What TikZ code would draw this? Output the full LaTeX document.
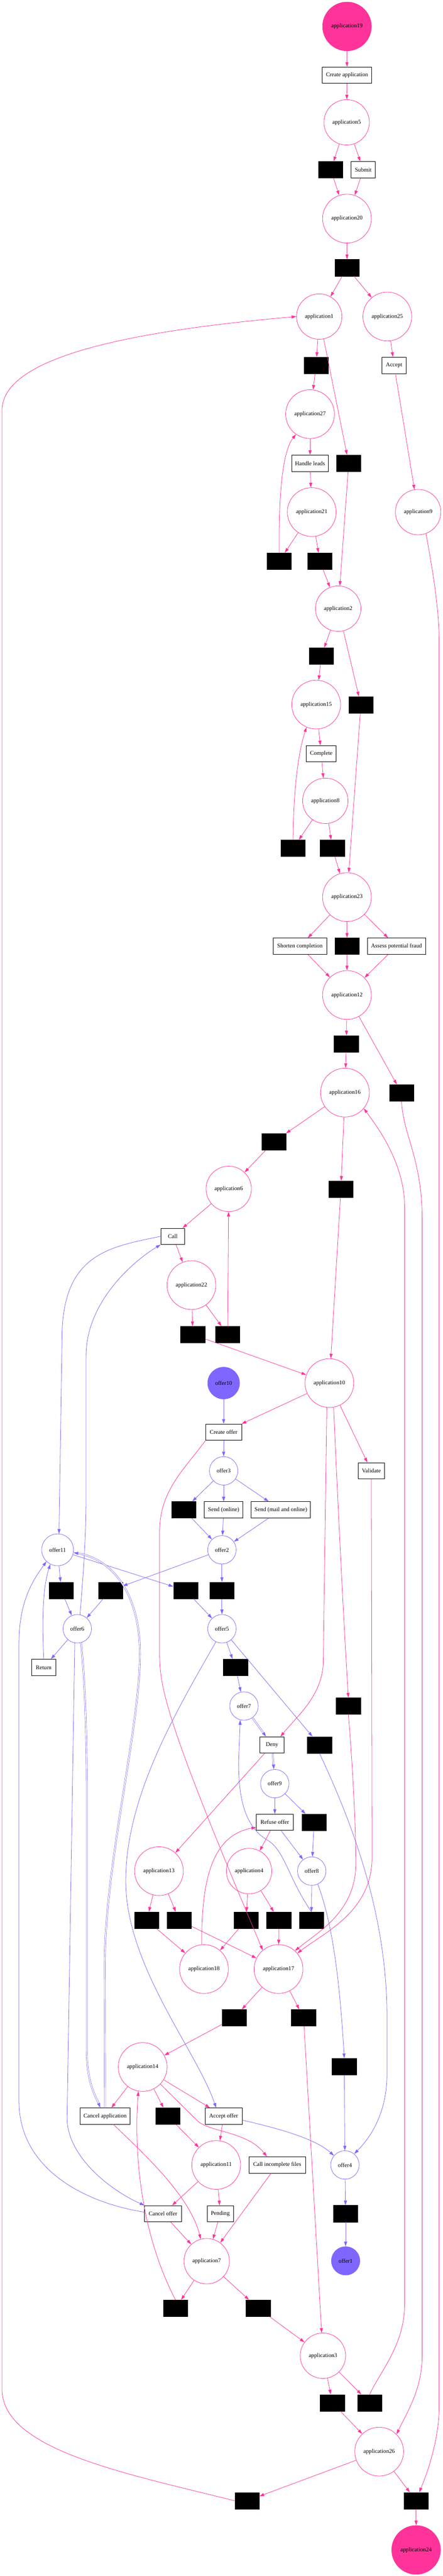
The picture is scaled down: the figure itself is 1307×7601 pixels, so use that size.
\documentclass[tikz,border=0pt]{standalone}
\usepackage{fontspec}
\setmainfont{Liberation Serif}
\usetikzlibrary{arrows.meta}
\definecolor{apink}{HTML}{FF3399}
\definecolor{oblue}{HTML}{7F66FF}
\begin{document}
\begin{tikzpicture}[x=0.5pt,y=-0.5pt,
  font=\fontsize{8.5}{10}\selectfont,
  appl/.style={circle,draw=apink,line width=0.6pt,inner sep=0pt,minimum size=#1},
  offr/.style={circle,draw=oblue,line width=0.6pt,inner sep=0pt,minimum size=#1},
  act/.style={draw,fill=white,line width=0.6pt,inner sep=0pt,minimum height=24pt,minimum width=#1},
  silent/.style={draw,fill=black,inner sep=0pt,minimum width=36pt,minimum height=24.5pt},
  aarc/.style={draw=apink,line width=0.6pt,-{Triangle[length=7pt,width=4.5pt]}},
  oarc/.style={draw=oblue,line width=0.6pt,-{Triangle[length=7pt,width=4.5pt]}},
  ovar/.style={oarc,double=white,double distance=1.4pt,line width=0.5pt}]
\useasboundingbox (0,0) rectangle (1307,7601);
\node[appl=72pt,fill=apink] (a19) at (1024,78) {application19};
\node[act=73pt] (tCA) at (1024,222) {Create application};
\node[appl=67pt] (a5) at (1023,361) {application5};
\node[silent] (s1) at (976,501) {};
\node[act=36pt] (tSub) at (1072,501) {Submit};
\node[appl=72pt] (a20) at (1024,645) {application20};
\node[silent] (s2) at (1024,790) {};
\node[appl=67pt] (a1) at (942,934) {application1};
\node[appl=72pt] (a25) at (1143,934) {application25};
\node[silent] (s3) at (933,1078) {};
\node[act=36pt] (tAcc) at (1163,1078) {Accept};
\node[appl=72pt] (a27) at (915,1222) {application27};
\node[act=54.5pt] (tHL) at (915,1367) {Handle leads};
\node[silent] (s4) at (1029,1367) {};
\node[appl=72pt] (a21) at (920,1511) {application21};
\node[appl=67pt] (a9) at (1234,1511) {application9};
\node[silent] (s5) at (824,1656) {};
\node[silent] (s6) at (944,1656) {};
\node[appl=67pt] (a2) at (998,1796) {application2};
\node[silent] (s7) at (948,1936) {};
\node[silent] (s8) at (1065,2080) {};
\node[appl=72pt] (a15) at (933,2079) {application15};
\node[act=44.5pt] (tCmp) at (948,2224) {Complete};
\node[appl=67pt] (a8) at (960,2363) {application8};
\node[silent] (s9) at (865,2503) {};
\node[silent] (s10) at (981,2503) {};
\node[appl=72pt] (a23) at (1024,2647) {application23};
\node[act=79pt] (tSC) at (885,2792) {Shorten completion};
\node[silent] (s11) at (1024,2792) {};
\node[act=86pt] (tAPF) at (1170,2792) {Assess potential fraud};
\node[appl=72pt] (a12) at (1024,2936) {application12};
\node[silent] (s12) at (1022,3080) {};
\node[silent] (s13) at (1185,3225) {};
\node[appl=72pt] (a16) at (1018,3224) {application16};
\node[silent] (s14) at (808,3369) {};
\node[appl=67pt] (a6) at (675,3508) {application6};
\node[silent] (s15) at (1006,3509) {};
\node[act=35.5pt] (tCall) at (510,3648) {Call};
\node[appl=72pt] (a22) at (565,3792) {application22};
\node[silent] (s16) at (569,3938) {};
\node[silent] (s17) at (672,3938) {};
\node[offr=47pt,fill=oblue] (o10) at (660,4081) {offer10};
\node[appl=72pt] (a10) at (972,4081) {application10};
\node[act=53pt] (tCO) at (660,4226) {Create offer};
\node[offr=42pt] (o3) at (660,4340) {offer3};
\node[act=39pt] (tVal) at (1096,4340) {Validate};
\node[silent] (s18) at (542,4455) {};
\node[act=57pt] (tSOn) at (660,4455) {Send (online)};
\node[act=87.5pt] (tSMO) at (829,4455) {Send (mail and online)};
\node[offr=47pt] (o11) at (170,4573) {offer11};
\node[offr=42pt] (o2) at (655,4573) {offer2};
\node[silent] (s19) at (181,4693) {};
\node[silent] (s20) at (326,4693) {};
\node[silent] (s21) at (548,4693) {};
\node[silent] (s22) at (655,4693) {};
\node[offr=42pt] (o6) at (228,4806) {offer6};
\node[offr=42pt] (o5) at (655,4806) {offer5};
\node[act=36pt] (tRet) at (129,4920) {Return};
\node[silent] (s23) at (695,4920) {};
\node[offr=42pt] (o7) at (720,5034) {offer7};
\node[silent] (s24) at (1028,5034) {};
\node[act=35.5pt] (tDeny) at (803,5149) {Deny};
\node[silent] (s25) at (943,5149) {};
\node[offr=42pt] (o9) at (811,5263) {offer9};
\node[act=54.5pt] (tRO) at (811,5377) {Refuse offer};
\node[silent] (s26) at (927,5377) {};
\node[appl=72pt] (a13) at (469,5521) {application13};
\node[appl=67pt] (a4) at (735,5521) {application4};
\node[offr=42pt] (o8) at (920,5521) {offer8};
\node[silent] (s27) at (433,5666) {};
\node[silent] (s28) at (529,5666) {};
\node[silent] (s29) at (726,5666) {};
\node[silent] (s30) at (823,5666) {};
\node[silent] (s31) at (919,5666) {};
\node[appl=72pt] (a18) at (602,5810) {application18};
\node[appl=72pt] (a17) at (822,5810) {application17};
\node[silent] (s32) at (691,5954) {};
\node[silent] (s33) at (896,5954) {};
\node[appl=72pt] (a14) at (421,6099) {application14};
\node[silent] (s34) at (1016,6098) {};
\node[act=73.5pt] (tCApp) at (310,6244) {Cancel application};
\node[silent] (s35) at (495,6244) {};
\node[act=54.5pt] (tAO) at (660,6244) {Accept offer};
\node[appl=72pt] (a11) at (638,6388) {application11};
\node[act=83.5pt] (tCIF) at (818,6388) {Call incomplete files};
\node[offr=42pt] (o4) at (1018,6388) {offer4};
\node[act=54pt] (tCOf) at (481,6532) {Cancel offer};
\node[act=38.5pt] (tPen) at (650,6532) {Pending};
\node[silent] (s36) at (1020,6532) {};
\node[appl=67pt] (a7) at (610,6672) {application7};
\node[offr=42pt,fill=oblue] (o1) at (1020,6671) {offer1};
\node[silent] (s37) at (518,6811) {};
\node[silent] (s38) at (762,6811) {};
\node[appl=67pt] (a3) at (953,6951) {application3};
\node[silent] (s39) at (981,7090) {};
\node[silent] (s40) at (1091,7090) {};
\node[appl=72pt] (a26) at (1119,7234) {application26};
\node[silent] (s41) at (729,7379) {};
\node[silent] (s42) at (1228,7379) {};
\node[appl=72pt,fill=apink] (a24) at (1228,7524) {application24};
\draw[aarc] (a19) -- (tCA);
\draw[aarc] (tCA) -- (a5);
\draw[aarc] (a5) -- (s1);
\draw[aarc] (a5) -- (tSub);
\draw[aarc] (s1) -- (a20);
\draw[aarc] (tSub) -- (a20);
\draw[aarc] (a20) -- (s2);
\draw[aarc] (s2) -- (a1);
\draw[aarc] (s2) -- (a25);
\draw[aarc] (a1) -- (s3);
\draw[aarc] (a1) -- (s4);
\draw[aarc] (a25) -- (tAcc);
\draw[aarc] (tAcc) -- (a9);
\draw[aarc] (s3) -- (a27);
\draw[aarc] (a27) -- (tHL);
\draw[aarc] (tHL) -- (a21);
\draw[aarc] (a21) -- (s5);
\draw[aarc] (a21) -- (s6);
\draw[aarc] (s5.north) .. controls (822,1450) and (835,1330) .. (a27.-125);
\draw[aarc] (s6) -- (a2);
\draw[aarc] (s4) -- (a2);
\draw[aarc] (a2) -- (s7);
\draw[aarc] (a2) -- (s8);
\draw[aarc] (s7) -- (a15);
\draw[aarc] (s8) -- (a23);
\draw[aarc] (a15) -- (tCmp);
\draw[aarc] (tCmp) -- (a8);
\draw[aarc] (a8) -- (s9);
\draw[aarc] (a8) -- (s10);
\draw[aarc] (s9.north) .. controls (866,2330) and (880,2220) .. (a15.-113);
\draw[aarc] (s10) -- (a23);
\draw[aarc] (a23) -- (tSC);
\draw[aarc] (a23) -- (s11);
\draw[aarc] (a23) -- (tAPF);
\draw[aarc] (tSC) -- (a12);
\draw[aarc] (s11) -- (a12);
\draw[aarc] (tAPF) -- (a12);
\draw[aarc] (a12) -- (s12);
\draw[aarc] (a12) -- (s13);
\draw[aarc] (s12) -- (a16);
\draw[aarc] (s13.south) .. controls (1190,3350) and (1246,3420) .. (1246,3600) -- (1246,6950) .. controls (1246,7050) and (1200,7120) .. (a26.45);
\draw[aarc] (a16) -- (s14);
\draw[aarc] (a16) -- (s15);
\draw[aarc] (s14) -- (a6);
\draw[aarc] (s15) -- (a10);
\draw[aarc] (s40.north) .. controls (1120,7000) and (1194,6920) .. (1194,6800) -- (1194,3560) .. controls (1194,3430) and (1110,3320) .. (a16.-40);
\draw[aarc] (a6) -- (tCall);
\draw[aarc] (tCall) -- (a22);
\draw[aarc] (a22) -- (s16);
\draw[aarc] (a22) -- (s17);
\draw[aarc] (s17) -- (a6);
\draw[aarc] (s16) -- (a10);
\draw[aarc] (a10) -- (tCO);
\draw[aarc] (a10) -- (tVal);
\draw[aarc] (a10.-96) -- (954,4900) .. controls (954,5000) and (880,5060) .. (tDeny.45);
\draw[aarc] (a10.-80) .. controls (995,4400) and (1015,4800) .. (s24.north);
\draw[aarc] (tVal.south) -- (1098,5480) .. controls (1098,5640) and (960,5700) .. (a17.40);
\draw[aarc] (s24.south) .. controls (1040,5200) and (1050,5380) .. (1050,5500) .. controls (1050,5640) and (940,5700) .. (a17.48);
\draw[aarc] (tCO.south west) .. controls (540,4340) and (471,4400) .. (471,4520) -- (471,4880) .. controls (471,4980) and (490,5080) .. (a17.130);
\draw[aarc] (tDeny) -- (a13);
\draw[aarc] (tRO) -- (a4);
\draw[aarc] (a18.95) .. controls (592,5480) and (660,5410) .. (tRO.195);
\draw[aarc] (a13) -- (s27);
\draw[aarc] (a13) -- (s28);
\draw[aarc] (a4) -- (s29);
\draw[aarc] (a4) -- (s30);
\draw[aarc] (s27) -- (a18);
\draw[aarc] (s29) -- (a18);
\draw[aarc] (s28) -- (a17);
\draw[aarc] (s30) -- (a17);
\draw[aarc] (a17) -- (s32);
\draw[aarc] (a17) -- (s33);
\draw[aarc] (s32) -- (a14);
\draw[aarc] (s33) -- (a3);
\draw[aarc] (a14) -- (tCApp);
\draw[aarc] (a14) -- (s35);
\draw[aarc] (a14) -- (tAO);
\draw[aarc] (a14.-44) -- (585,6260) .. controls (625,6292) and (730,6290) .. (tCIF.141);
\draw[aarc] (tAO) -- (a11);
\draw[aarc] (s35) -- (a11);
\draw[aarc] (tCApp.-45) .. controls (430,6360) and (560,6480) .. (a7.105);
\draw[aarc] (s37.north) .. controls (400,6560) and (398,6300) .. (a14.-100);
\draw[aarc] (a11) -- (tCOf);
\draw[aarc] (a11) -- (tPen);
\draw[aarc] (tCOf) -- (a7);
\draw[aarc] (tPen) -- (a7);
\draw[aarc] (tCIF) -- (a7);
\draw[aarc] (a7) -- (s37);
\draw[aarc] (a7) -- (s38);
\draw[aarc] (s38) -- (a3);
\draw[aarc] (a3) -- (s39);
\draw[aarc] (a3) -- (s40);
\draw[aarc] (s39) -- (a26);
\draw[aarc] (a26) -- (s41);
\draw[aarc] (a26) -- (s42);
\draw[aarc] (s42) -- (a24);
\draw[aarc] (a9.-70) .. controls (1280,1700) and (1296,1800) .. (1296,1900) -- (1296,7100) .. controls (1296,7200) and (1260,7300) .. (s42.70);
\draw[aarc] (s41.west) .. controls (380,7300) and (6,7230) .. (6,7050) -- (6,1211) .. controls (6,1060) and (350,980) .. (a1.west);
\draw[oarc] (o10) -- (tCO);
\draw[oarc] (tCO) -- (o3);
\draw[oarc] (o3) -- (s18);
\draw[oarc] (o3) -- (tSOn);
\draw[oarc] (o3) -- (tSMO);
\draw[oarc] (s18) -- (o2);
\draw[oarc] (tSOn) -- (o2);
\draw[oarc] (tSMO) -- (o2);
\draw[oarc] (o2) -- (s20);
\draw[oarc] (o2) -- (s22);
\draw[oarc] (o11) -- (s19);
\draw[oarc] (o11) -- (s21);
\draw[oarc] (s19) -- (o6);
\draw[oarc] (s20) -- (o6);
\draw[oarc] (s21) -- (o5);
\draw[oarc] (s22) -- (o5);
\draw[oarc] (o6) -- (tRet);
\draw[oarc] (tRet.north) .. controls (123,4760) and (128,4680) .. (o11.-117);
\draw[oarc] (tCall.west) .. controls (320,3680) and (183,3700) .. (183,3950) -- (o11.85);
\draw[oarc] (o6.79) .. controls (245,4650) and (254,4550) .. (254,4400) -- (254,4000) .. controls (254,3850) and (380,3730) .. (tCall.south west);
\draw[oarc] (tCOf.175) .. controls (250,6500) and (56,6400) .. (56,6200) -- (56,4850) .. controls (56,4720) and (100,4660) .. (o11.-134);
\draw[oarc] (o6.-100) -- (198,6250) .. controls (198,6360) and (320,6460) .. (tCOf.north west);
\draw[ovar] (o6.-75) .. controls (250,4950) and (256,5100) .. (256,5300) -- (256,6050) .. controls (256,6150) and (285,6190) .. (tCApp.120);
\draw[ovar] (tCApp.north) -- (309,5800) .. controls (309,5500) and (413,5100) .. (413,4880) .. controls (413,4700) and (330,4600) .. (o11.-10);
\draw[oarc] (o5.-115) .. controls (520,5050) and (371,5300) .. (371,5550) .. controls (371,5800) and (580,6050) .. (tAO.132);
\draw[oarc] (o5) -- (s23);
\draw[oarc] (s23) -- (o7);
\draw[ovar] (o7) -- (tDeny);
\draw[ovar] (tDeny) -- (o9);
\draw[oarc] (o9) -- (tRO);
\draw[oarc] (o9) -- (s26);
\draw[oarc] (tRO) -- (o8);
\draw[oarc] (s26) -- (o8);
\draw[oarc] (o8) -- (s31);
\draw[oarc] (s31.north) .. controls (850,5540) and (840,5460) .. (790,5430) .. controls (720,5390) and (704,5300) .. (704,5200) -- (o7.-105);
\draw[oarc] (o8.-65) .. controls (975,5660) and (1000,5800) .. (s34.north);
\draw[oarc] (o5) -- (s25);
\draw[oarc] (s25.south) .. controls (1040,5380) and (1142,5650) .. (1142,5950) -- (1142,6120) .. controls (1142,6250) and (1080,6320) .. (o4.50);
\draw[oarc] (s34) -- (o4);
\draw[oarc] (tAO.-12) .. controls (820,6280) and (930,6310) .. (o4.140);
\draw[oarc] (o4) -- (s36);
\draw[oarc] (s36) -- (o1);
\end{tikzpicture}
\end{document}
